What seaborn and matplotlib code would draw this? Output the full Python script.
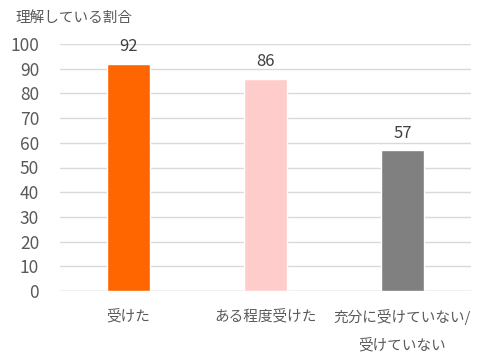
import matplotlib
matplotlib.use("Agg")
import matplotlib.pyplot as plt
import seaborn as sns
import pandas as pd

categories = ["受けた", "ある程度受けた", "充分に受けていない/\n受けていない"]
values = [92, 86, 57]
colors = ["#FF6600", "#FFCCCC", "#808080"]
yticks = list(range(0, 101, 10))

sns.set_theme(style="white")
plt.rcParams['font.family'] = ['Noto Sans CJK JP', 'DejaVu Sans']

df = pd.DataFrame({"cat": categories, "val": values})
fig = plt.figure(figsize=(4.86, 3.64), dpi=100)
ax = fig.add_axes([60/486, 1-291/364, (471-60)/486, (291-44)/364])
sns.barplot(data=df, x="cat", y="val", hue="cat", palette=colors, width=0.31,
            legend=False, ax=ax, saturation=1)
ax.set_ylim(0, 100)
ax.set_yticks(yticks)
ax.yaxis.grid(True, color="#D9D9D9", linewidth=1)
ax.set_axisbelow(True)
for s in ax.spines.values():
    s.set_visible(False)
ax.axhline(0, color="#D9D9D9", linewidth=1, zorder=0.5)
ax.set_xlabel("")
ax.set_ylabel("")
ax.tick_params(axis="y", colors="#595959", labelsize=12.5, length=0, pad=15)
ax.tick_params(axis="x", colors="#595959", labelsize=10.5, length=0, pad=13)
for lbl in ax.get_xticklabels():
    lbl.set_linespacing(2.1)
for c in ax.containers:
    ax.bar_label(c, fmt="%d", padding=6, color="#404040", fontsize=12)
fig.text(15/486, 1-18/364, "理解している割合", color="#595959", fontsize=10.5,
         ha="left", va="center")
fig.savefig("out.png", dpi=100)
